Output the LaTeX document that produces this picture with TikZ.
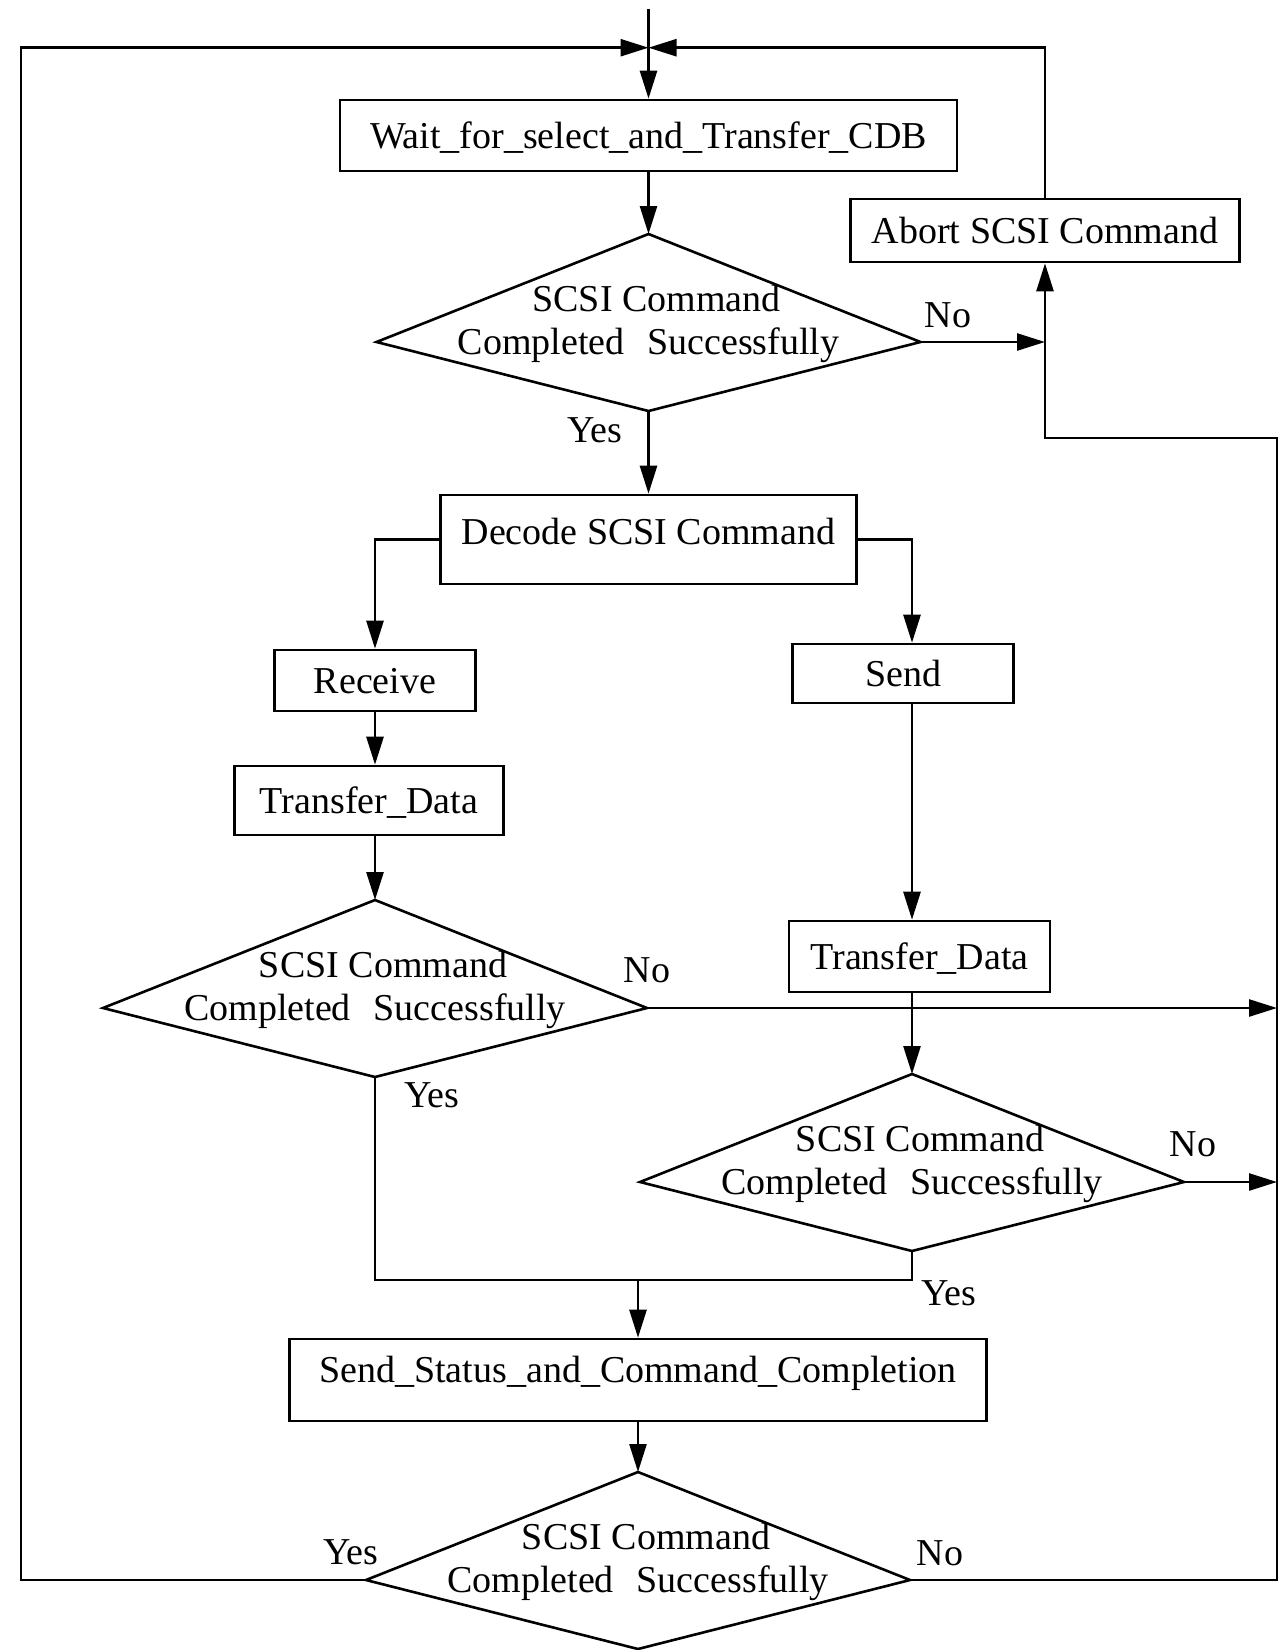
\documentclass[tikz,border=0pt]{standalone}
\usepackage{fontspec}
\setmainfont{Liberation Serif}
\usetikzlibrary{arrows.meta}

\tikzset{
  wire/.style={line width=1.3pt, line join=miter},
  arr/.style={wire, -{Triangle[length=14pt,width=8.5pt]}},
  txt/.style={inner sep=0pt, font=\fontsize{19pt}{22pt}\selectfont},
  box/.style={draw, wire, txt, text height=12.6pt, text depth=0pt},
}

% decision kite: name, centre x, y of the side vertices
\newcommand\dcsn[3]{%
  \coordinate (#1-t) at (#2,#3-108);
  \coordinate (#1-b) at (#2,#3+69);
  \coordinate (#1-l) at (#2-272,#3);
  \coordinate (#1-r) at (#2+272,#3);
  \draw[wire] (#1-t) -- (#1-r) -- (#1-b) -- (#1-l) -- cycle;
  \node[txt, anchor=base] (#1-q1) at (#2+8,#3-30.5) {SCSI Command};
  \node[txt, anchor=base] (#1-q2) at (#2,#3+12.5) {Completed\hspace{0.6em}Successfully};
}

\begin{document}
\begin{tikzpicture}[x=0.5pt, y=-0.5pt]
  \path[fill=white, use as bounding box] (0,0) rectangle (1281,1650);

  % process boxes
  \node[box, minimum width=308.5pt, minimum height=35.5pt] (wait) at (648.5,135.5) {Wait\_for\_select\_and\_Transfer\_CDB};
  \node[box, minimum width=194.5pt, minimum height=31.5pt] (abort) at (1045,230.5) {Abort SCSI Command};
  \node[box, minimum width=208pt, minimum height=44.5pt, text depth=8pt] (dec) at (648.5,539.5) {Decode SCSI Command};
  \node[box, minimum width=100.5pt, minimum height=30.5pt] (recv) at (375,680.5) {Receive};
  \node[box, minimum width=134.5pt, minimum height=34.5pt] (tdl) at (369,800.5) {Transfer\_Data};
  \node[box, minimum width=110.5pt, minimum height=29.5pt] (send) at (903,673.5) {Send};
  \node[box, minimum width=130.5pt, minimum height=35.5pt] (tdr) at (919.5,956.5) {Transfer\_Data};
  \node[box, minimum width=348.5pt, minimum height=41pt, text depth=10pt] (stat) at (638,1380) {Send\_Status\_and\_Command\_Completion};

  % decisions
  \dcsn{d1}{648.5}{342}
  \dcsn{d2}{375}{1008}
  \dcsn{d3}{912}{1182}
  \dcsn{d4}{638}{1580}

  % helper points
  \coordinate (entry) at ([yshift=45pt]wait.north);
  \coordinate (join) at ([yshift=25.5pt]wait.north);
  \coordinate (lx) at (21,0);
  \coordinate (rx) at (1277,438);
  \coordinate (mrg) at (638,1280);

  % main flow
  \draw[arr] (entry) -- (wait.north);
  \draw[arr] (wait.south) -- (d1-t);
  \draw[arr] (d1-b) -- (dec.north);
  \draw[arr] (dec.west) -| (recv.north);
  \draw[arr] (recv.south) -- (recv.south |- tdl.north);
  \draw[arr] (tdl.south -| d2-t) -- (d2-t);
  \draw[arr] (dec.east) -| (send.north -| d3-t);
  \draw[arr] (send.south -| d3-t) -- (tdr.north -| d3-t);
  \draw[arr] (tdr.south -| d3-t) -- (d3-t);
  \draw[wire] (d2-b) |- (mrg) -| (d3-b);
  \draw[arr] (mrg) -- (stat.north);
  \draw[arr] (stat.south) -- (d4-t);

  % failure paths and loops
  \draw[arr] (d1-r) -- (d1-r -| abort.south);
  \draw[arr] (d2-r) -- (d2-r -| rx);
  \draw[arr] (d3-r) -- (d3-r -| rx);
  \draw[arr] (d4-r) -| (rx) -| (abort.south);
  \draw[arr] (abort.north) |- (join);
  \draw[arr] (d4-l) -| (lx |- join) -- (join);

  % branch labels
  \node[txt] (no1) at (948,315) {No};
  \node[txt] (yes1) at (595,430) {Yes};
  \node[txt] (no2) at (647,970) {No};
  \node[txt] (yes2) at (432,1095) {Yes};
  \node[txt] (no3) at (1193,1144) {No};
  \node[txt] (yes3) at (949,1293) {Yes};
  \node[txt] (yes4) at (351,1552) {Yes};
  \node[txt] (no4) at (940,1553) {No};
\end{tikzpicture}
\end{document}
